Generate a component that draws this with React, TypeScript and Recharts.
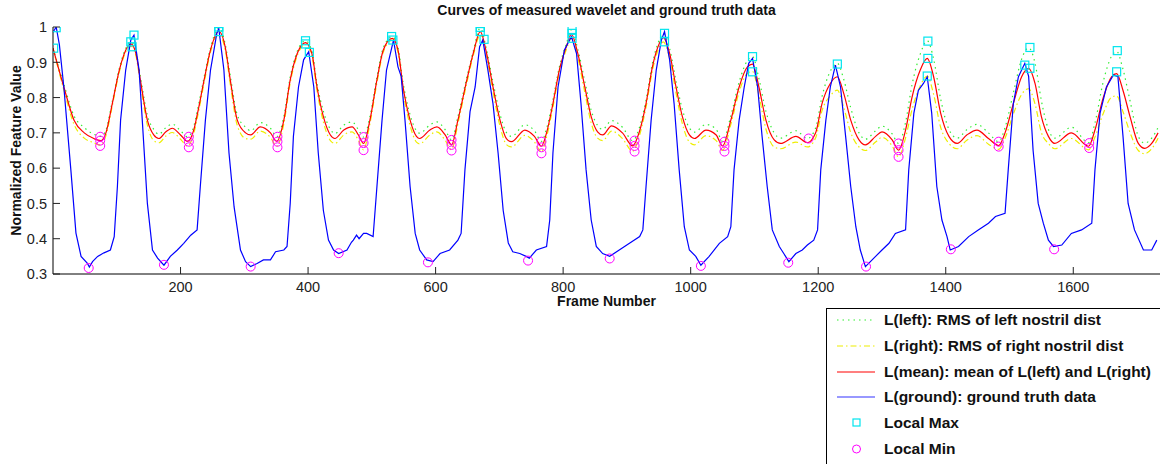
import React from "react";
import { ComposedChart, Line, Scatter, XAxis, YAxis } from "recharts";

// frames sampled for the wavelet curves (left, right, mean)
const waveFrames = [
  0, 17, 33, 49, 64, 75, 83, 93, 104, 117, 122, 130, 137, 148, 158, 166, 177, 187, 200, 211,
  221, 226, 237, 247, 260, 270, 278, 289, 302, 310, 325, 341, 351, 362, 372, 383, 396, 406, 414, 424,
  435, 442, 456, 469, 479, 487, 497, 508, 518, 532, 541, 549, 560, 570, 575, 591, 602, 615, 625, 635,
  649, 659, 670, 680, 690, 701, 711, 719, 740, 755, 766, 774, 784, 794, 805, 813, 823, 834, 844, 854,
  862, 876, 893, 909, 919, 930, 940, 951, 957, 967, 977, 987, 998, 1006, 1024, 1040, 1050, 1063, 1076, 1089,
  1097, 1107, 1118, 1131, 1141, 1165, 1183, 1196, 1206, 1219, 1230, 1240, 1251, 1264, 1274, 1290, 1300, 1316, 1326, 1337,
  1347, 1360, 1371, 1381, 1392, 1405, 1418, 1433, 1449, 1467, 1483, 1493, 1506, 1519, 1530, 1540, 1550, 1561, 1571, 1597,
  1624, 1634, 1647, 1660, 1668, 1678, 1689, 1702, 1712, 1723, 1733,
];

const meanValues = [
  0.94, 0.83, 0.736, 0.7, 0.684, 0.678, 0.7, 0.783, 0.878, 0.944, 0.952, 0.925, 0.85, 0.736, 0.694, 0.684, 0.703, 0.713, 0.694, 0.676,
  0.71, 0.75, 0.85, 0.935, 0.988, 0.944, 0.85, 0.736, 0.7, 0.694, 0.717, 0.7, 0.676, 0.736, 0.85, 0.925, 0.956, 0.925, 0.83, 0.746,
  0.694, 0.684, 0.708, 0.717, 0.694, 0.67, 0.736, 0.85, 0.935, 0.968, 0.935, 0.83, 0.736, 0.69, 0.684, 0.708, 0.717, 0.694, 0.666, 0.736,
  0.85, 0.925, 0.987, 0.925, 0.83, 0.736, 0.684, 0.675, 0.708, 0.69, 0.662, 0.7, 0.783, 0.878, 0.944, 0.98, 0.925, 0.83, 0.746, 0.703,
  0.694, 0.72, 0.7, 0.663, 0.7, 0.783, 0.887, 0.954, 0.97, 0.925, 0.83, 0.746, 0.694, 0.684, 0.708, 0.694, 0.663, 0.736, 0.83, 0.887,
  0.895, 0.83, 0.736, 0.68, 0.67, 0.69, 0.672, 0.7, 0.783, 0.84, 0.859, 0.812, 0.736, 0.68, 0.666, 0.69, 0.703, 0.68, 0.651, 0.708,
  0.8, 0.878, 0.911, 0.859, 0.756, 0.69, 0.67, 0.694, 0.708, 0.684, 0.664, 0.7, 0.783, 0.859, 0.883, 0.84, 0.746, 0.69, 0.67, 0.7,
  0.662, 0.708, 0.8, 0.859, 0.868, 0.82, 0.746, 0.67, 0.656, 0.67, 0.7,
];

const leftValues = [
  0.94, 0.838, 0.748, 0.715, 0.696, 0.69, 0.708, 0.789, 0.883, 0.949, 0.958, 0.931, 0.86, 0.75, 0.71, 0.696, 0.715, 0.725, 0.706, 0.689,
  0.72, 0.76, 0.858, 0.941, 0.998, 0.952, 0.862, 0.751, 0.716, 0.706, 0.729, 0.713, 0.689, 0.746, 0.858, 0.931, 0.961, 0.932, 0.84, 0.761,
  0.71, 0.698, 0.722, 0.731, 0.709, 0.688, 0.746, 0.858, 0.941, 0.973, 0.942, 0.842, 0.751, 0.706, 0.699, 0.722, 0.731, 0.709, 0.68, 0.746,
  0.858, 0.931, 0.997, 0.935, 0.844, 0.753, 0.701, 0.69, 0.723, 0.706, 0.676, 0.712, 0.793, 0.886, 0.952, 0.992, 0.937, 0.846, 0.764, 0.721,
  0.71, 0.735, 0.716, 0.678, 0.712, 0.793, 0.897, 0.964, 0.982, 0.939, 0.847, 0.766, 0.714, 0.702, 0.724, 0.71, 0.676, 0.748, 0.844, 0.905,
  0.916, 0.854, 0.761, 0.7, 0.685, 0.706, 0.684, 0.714, 0.803, 0.875, 0.897, 0.852, 0.771, 0.7, 0.682, 0.706, 0.719, 0.697, 0.67, 0.73,
  0.835, 0.923, 0.961, 0.909, 0.796, 0.71, 0.685, 0.709, 0.724, 0.7, 0.675, 0.715, 0.813, 0.909, 0.941, 0.898, 0.791, 0.71, 0.685, 0.716,
  0.672, 0.728, 0.845, 0.917, 0.931, 0.88, 0.791, 0.69, 0.671, 0.685, 0.715,
];

const rightValues = [
  0.94, 0.822, 0.724, 0.685, 0.672, 0.665, 0.692, 0.777, 0.873, 0.939, 0.946, 0.919, 0.84, 0.722, 0.678, 0.672, 0.691, 0.701, 0.682, 0.662,
  0.7, 0.74, 0.842, 0.929, 0.978, 0.936, 0.838, 0.721, 0.684, 0.682, 0.705, 0.687, 0.662, 0.726, 0.842, 0.919, 0.951, 0.918, 0.82, 0.731,
  0.678, 0.67, 0.694, 0.703, 0.679, 0.652, 0.726, 0.842, 0.929, 0.963, 0.928, 0.818, 0.721, 0.674, 0.669, 0.694, 0.703, 0.679, 0.652, 0.726,
  0.842, 0.919, 0.977, 0.915, 0.816, 0.719, 0.667, 0.66, 0.693, 0.674, 0.646, 0.688, 0.773, 0.87, 0.936, 0.968, 0.913, 0.814, 0.728, 0.685,
  0.678, 0.705, 0.684, 0.648, 0.688, 0.773, 0.877, 0.944, 0.958, 0.911, 0.813, 0.726, 0.674, 0.666, 0.692, 0.678, 0.65, 0.724, 0.816, 0.869,
  0.874, 0.806, 0.711, 0.66, 0.655, 0.674, 0.66, 0.686, 0.763, 0.805, 0.821, 0.772, 0.701, 0.66, 0.65, 0.674, 0.687, 0.663, 0.632, 0.686,
  0.765, 0.833, 0.861, 0.809, 0.716, 0.67, 0.655, 0.679, 0.692, 0.668, 0.653, 0.685, 0.753, 0.809, 0.825, 0.782, 0.701, 0.67, 0.655, 0.684,
  0.652, 0.688, 0.755, 0.801, 0.805, 0.76, 0.701, 0.65, 0.641, 0.655, 0.685,
];

// ground truth, traced point by point
const groundFrames = [
  0, 5, 10, 17, 28, 36, 44, 54, 57, 62, 70, 80, 90, 96, 101, 106, 114, 122, 127, 135,
  140, 148, 156, 164, 174, 184, 195, 205, 216, 226, 231, 239, 247, 257, 260, 268, 276, 284, 294, 302,
  310, 320, 330, 341, 349, 362, 367, 372, 377, 385, 393, 401, 409, 416, 424, 432, 440, 448, 461, 468,
  471, 476, 480, 487, 492, 502, 508, 516, 523, 534, 541, 546, 552, 560, 568, 575, 586, 596, 607, 622,
  635, 640, 646, 654, 662, 669, 674, 682, 690, 698, 706, 714, 721, 732, 742, 747, 758, 774, 779, 784,
  792, 802, 813, 821, 828, 836, 844, 852, 862, 873, 888, 904, 920, 925, 930, 938, 946, 954, 959, 967,
  974, 982, 990, 998, 1008, 1016, 1029, 1045, 1058, 1063, 1068, 1076, 1084, 1091, 1097, 1105, 1112, 1120, 1128, 1139,
  1146, 1154, 1165, 1175, 1183, 1193, 1199, 1204, 1212, 1219, 1227, 1235, 1243, 1251, 1259, 1266, 1274, 1290, 1300, 1311,
  1321, 1337, 1342, 1350, 1357, 1365, 1371, 1378, 1386, 1394, 1402, 1407, 1420, 1436, 1451, 1467, 1478, 1493, 1498, 1506,
  1514, 1524, 1530, 1537, 1545, 1553, 1561, 1569, 1582, 1597, 1613, 1629, 1634, 1642, 1652, 1663, 1670, 1678, 1686, 1696,
  1710, 1723, 1731,
];

const groundValues = [
  0.985, 1.0, 0.95, 0.83, 0.595, 0.416, 0.35, 0.33, 0.32, 0.335, 0.35, 0.36, 0.368, 0.406, 0.548, 0.736, 0.878, 0.963, 0.977, 0.878,
  0.736, 0.5, 0.368, 0.345, 0.325, 0.35, 0.368, 0.387, 0.41, 0.425, 0.548, 0.736, 0.878, 0.983, 0.996, 0.878, 0.643, 0.49, 0.368, 0.335,
  0.321, 0.33, 0.34, 0.34, 0.363, 0.368, 0.378, 0.5, 0.69, 0.83, 0.907, 0.93, 0.83, 0.643, 0.48, 0.396, 0.368, 0.358, 0.368, 0.39,
  0.396, 0.41, 0.4, 0.415, 0.415, 0.406, 0.548, 0.736, 0.878, 0.963, 0.887, 0.86, 0.736, 0.548, 0.415, 0.368, 0.34, 0.335, 0.358, 0.368,
  0.396, 0.415, 0.595, 0.76, 0.83, 0.944, 0.963, 0.878, 0.783, 0.643, 0.48, 0.388, 0.363, 0.358, 0.35, 0.345, 0.368, 0.378, 0.453, 0.643,
  0.83, 0.935, 0.973, 0.925, 0.783, 0.595, 0.453, 0.378, 0.358, 0.35, 0.368, 0.387, 0.406, 0.425, 0.548, 0.736, 0.878, 0.963, 0.987, 0.907,
  0.783, 0.595, 0.434, 0.368, 0.35, 0.325, 0.35, 0.387, 0.406, 0.434, 0.595, 0.736, 0.83, 0.897, 0.911, 0.83, 0.69, 0.548, 0.425, 0.378,
  0.358, 0.335, 0.358, 0.368, 0.382, 0.396, 0.425, 0.595, 0.736, 0.83, 0.892, 0.83, 0.69, 0.548, 0.434, 0.368, 0.321, 0.35, 0.368, 0.387,
  0.415, 0.425, 0.595, 0.756, 0.82, 0.84, 0.859, 0.756, 0.548, 0.453, 0.406, 0.368, 0.378, 0.406, 0.425, 0.444, 0.463, 0.472, 0.595, 0.783,
  0.859, 0.897, 0.86, 0.65, 0.5, 0.444, 0.396, 0.378, 0.382, 0.415, 0.425, 0.444, 0.595, 0.756, 0.83, 0.864, 0.859, 0.69, 0.5, 0.425,
  0.368, 0.368, 0.396,
];

// markers as found on the figure
const maxFrames = [1, 5, 122, 124, 127, 260, 260, 396, 396, 402, 531, 533, 670, 670, 676, 814, 814, 814, 959, 959, 1097, 1097, 1230, 1372, 1372, 1371, 1524, 1532, 1532, 1668, 1669];
const maxValues = [0.94, 0.998, 0.958, 0.944, 0.977, 1.0, 0.987, 0.961, 0.952, 0.928, 0.973, 0.963, 0.999, 0.987, 0.965, 0.993, 0.982, 0.968, 0.982, 0.958, 0.916, 0.873, 0.895, 0.96, 0.911, 0.861, 0.892, 0.942, 0.883, 0.873, 0.933];

const minFrames = [56, 74, 74, 74, 174, 213, 213, 213, 310, 352, 352, 352, 448, 487, 487, 487, 588, 625, 625, 625, 745, 766, 766, 766, 873, 912, 912, 912, 1016, 1053, 1053, 1053, 1153, 1185, 1275, 1326, 1326, 1326, 1408, 1483, 1483, 1570, 1625, 1625];
const minValues = [0.317, 0.689, 0.678, 0.663, 0.326, 0.689, 0.675, 0.659, 0.321, 0.689, 0.675, 0.659, 0.359, 0.688, 0.671, 0.651, 0.333, 0.68, 0.666, 0.65, 0.338, 0.675, 0.659, 0.642, 0.344, 0.678, 0.663, 0.647, 0.323, 0.675, 0.663, 0.647, 0.332, 0.684, 0.321, 0.67, 0.651, 0.632, 0.37, 0.675, 0.661, 0.37, 0.671, 0.657];

const xTicks = [200, 400, 600, 800, 1000, 1200, 1400, 1600];
const yTicks = [0.3, 0.4, 0.5, 0.6, 0.7, 0.8, 0.9, 1];

const FONT = '"Liberation Sans", Arial, Helvetica, sans-serif';

const leftData = waveFrames.map((f, i) => ({ frame: f, v: leftValues[i] }));
const rightData = waveFrames.map((f, i) => ({ frame: f, v: rightValues[i] }));
const meanData = waveFrames.map((f, i) => ({ frame: f, v: meanValues[i] }));
const groundData = groundFrames.map((f, i) => ({ frame: f, v: groundValues[i] }));
const maxData = maxFrames.map((f, i) => ({ frame: f, v: maxValues[i] }));
const minData = minFrames.map((f, i) => ({ frame: f, v: minValues[i] }));

const BottomTick = (props: any) => {
  const { x, y, payload } = props;
  return (
    <g>
      <line x1={x} x2={x} y1={y} y2={y - 7} stroke="#222" />
      <text x={x} y={y + 18} textAnchor="middle" fontSize={14.5} fontFamily={FONT} fill="#222">
        {payload.value}
      </text>
    </g>
  );
};

const TopTick = (props: any) => {
  const { x, y } = props;
  return <line x1={x} x2={x} y1={y} y2={y + 7} stroke="#222" />;
};

const LeftTick = (props: any) => {
  const { x, y, payload } = props;
  const label = payload.value === 1 ? "1" : payload.value.toFixed(1);
  return (
    <g>
      <line x1={x} x2={x + 7} y1={y} y2={y} stroke="#222" />
      <text x={x - 6} y={y} dy="0.36em" textAnchor="end" fontSize={14.5} fontFamily={FONT} fill="#222">
        {label}
      </text>
    </g>
  );
};

const RightTick = (props: any) => {
  const { x, y } = props;
  return <line x1={x} x2={x - 7} y1={y} y2={y} stroke="#222" />;
};

const SquareMark = (props: any) => (
  <rect x={props.cx - 4} y={props.cy - 4} width={8} height={8} fill="none" stroke="#00e5ee" strokeWidth={1.2} />
);

const CircleMark = (props: any) => (
  <circle cx={props.cx} cy={props.cy} r={4.5} fill="none" stroke="#ff00ff" strokeWidth={1} />
);

const legendRows = [
  { label: "L(left): RMS of left nostril dist", kind: "line", color: "#33ee33", dash: "1.5 4" },
  { label: "L(right): RMS of right nostril dist", kind: "line", color: "#eeee00", dash: "6 3 1.5 3" },
  { label: "L(mean): mean of L(left) and L(right)", kind: "line", color: "#ff0000", dash: undefined },
  { label: "L(ground): ground truth data", kind: "line", color: "#3333ff", dash: undefined },
  { label: "Local Max", kind: "square", color: "#00e5ee", dash: undefined },
  { label: "Local Min", kind: "circle", color: "#ff00ff", dash: undefined },
];

function LegendBox() {
  return (
    <div
      style={{
        position: "absolute",
        left: 826,
        top: 308,
        width: 340,
        height: 170,
        border: "1px solid #000",
        background: "#fff",
        boxSizing: "border-box",
      }}
    >
      {legendRows.map((r, i) => (
        <div key={r.label} style={{ position: "absolute", left: 0, top: i * 25.8, height: 22, width: 340 }}>
          <svg width={50} height={22} style={{ position: "absolute", left: 8, top: 0 }}>
            {r.kind === "line" && (
              <line x1={2} x2={40} y1={11} y2={11} stroke={r.color} strokeWidth={1.2} strokeDasharray={r.dash} />
            )}
            {r.kind === "square" && <rect x={18} y={7} width={7} height={7} fill="none" stroke={r.color} strokeWidth={1.2} />}
            {r.kind === "circle" && <circle cx={21.5} cy={11} r={4} fill="none" stroke={r.color} strokeWidth={1} />}
          </svg>
          <span
            style={{
              position: "absolute",
              left: 57,
              top: 2,
              fontFamily: FONT,
              fontWeight: "bold",
              fontSize: 15.5,
              lineHeight: "18px",
              color: "#111",
              whiteSpace: "nowrap",
            }}
          >
            {r.label}
          </span>
        </div>
      ))}
    </div>
  );
}

export default function App() {
  return (
    <div style={{ position: "absolute", left: 0, top: 0, width: 1160, height: 464, background: "#fff", overflow: "hidden" }}>
      <div
        style={{
          position: "absolute",
          left: 53,
          width: 1107,
          top: 2,
          textAlign: "center",
          fontFamily: FONT,
          fontWeight: "bold",
          fontSize: 14,
          color: "#111",
        }}
      >
        Curves of measured wavelet and ground truth data
      </div>
      <ComposedChart width={1160} height={464} margin={{ top: 27, right: 0, left: 13, bottom: 160 }}>
        <XAxis
          dataKey="frame"
          type="number"
          domain={[0, 1736]}
          ticks={xTicks}
          allowDataOverflow
          height={30}
          tickSize={0}
          tickMargin={0}
          axisLine={{ stroke: "#000" }}
          tick={<BottomTick />}
          label={{
            value: "Frame Number",
            content: (p: any) => (
              <text
                x={p.viewBox.x + p.viewBox.width / 2}
                y={p.viewBox.y + 32}
                textAnchor="middle"
                fontSize={14}
                fontWeight="bold"
                fontFamily={FONT}
                fill="#111"
              >
                Frame Number
              </text>
            ),
          }}
        />
        <XAxis
          xAxisId="top"
          dataKey="frame"
          type="number"
          orientation="top"
          domain={[0, 1736]}
          ticks={xTicks}
          allowDataOverflow
          height={0}
          tickSize={0}
          tickMargin={0}
          axisLine={{ stroke: "#000" }}
          tick={<TopTick />}
        />
        <YAxis
          type="number"
          domain={[0.3, 1]}
          ticks={yTicks}
          allowDataOverflow
          width={40}
          tickSize={0}
          tickMargin={0}
          axisLine={{ stroke: "#000" }}
          tick={<LeftTick />}
          label={{
            value: "Normalized Feature Value",
            content: (p: any) => {
              const cy = p.viewBox.y + p.viewBox.height / 2;
              return (
                <text
                  x={16}
                  y={cy}
                  transform={`rotate(-90, 16, ${cy})`}
                  textAnchor="middle"
                  dy="0.35em"
                  fontSize={14}
                  fontWeight="bold"
                  fontFamily={FONT}
                  fill="#111"
                >
                  Normalized Feature Value
                </text>
              );
            },
          }}
        />
        <YAxis
          yAxisId="right"
          orientation="right"
          type="number"
          domain={[0.3, 1]}
          ticks={yTicks}
          width={0}
          tickSize={0}
          tickMargin={0}
          axisLine={{ stroke: "#000" }}
          tick={<RightTick />}
        />
        <Line data={leftData} dataKey="v" type="monotone" stroke="#33ee33" strokeWidth={1.2} strokeDasharray="1.5 4" dot={false} isAnimationActive={false} />
        <Line data={rightData} dataKey="v" type="monotone" stroke="#eeee00" strokeWidth={1.2} strokeDasharray="6 3 1.5 3" dot={false} isAnimationActive={false} />
        <Line data={meanData} dataKey="v" type="monotone" stroke="#ff0000" strokeWidth={1.2} dot={false} isAnimationActive={false} />
        <Line data={groundData} dataKey="v" type="linear" stroke="#0000ff" strokeWidth={1.2} dot={false} isAnimationActive={false} />
        <Scatter data={maxData} dataKey="v" shape={<SquareMark />} isAnimationActive={false} />
        <Scatter data={minData} dataKey="v" shape={<CircleMark />} isAnimationActive={false} />
      </ComposedChart>
      <LegendBox />
    </div>
  );
}
